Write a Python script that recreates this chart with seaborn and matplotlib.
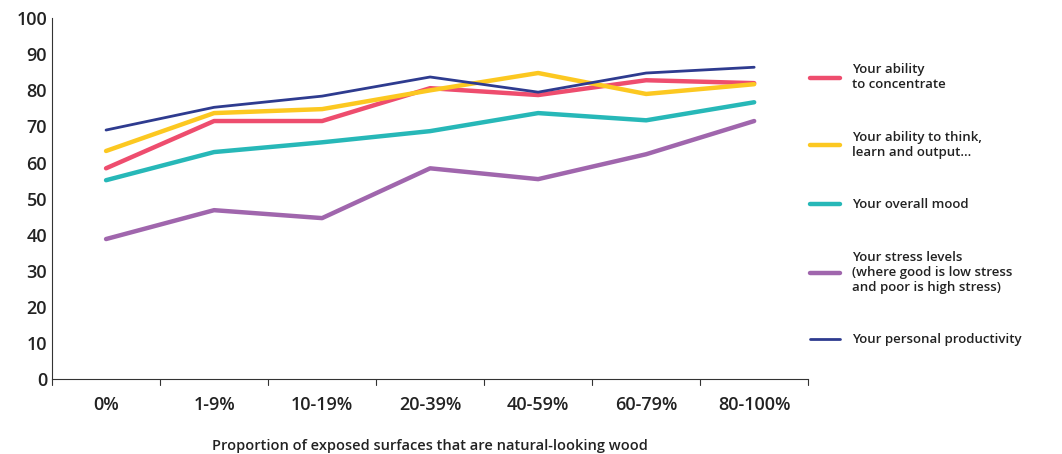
import pandas as pd
import seaborn as sns
import matplotlib.pyplot as plt

categories = ['0%', '1-9%', '10-19%', '20-39%', '40-59%', '60-79%', '80-100%']
concentrate = [58.4, 71.5, 71.5, 80.6, 78.7, 82.8, 82.0]
think = [63.2, 73.7, 74.8, 80.0, 84.8, 79.0, 81.7]
mood = [55.1, 62.9, 65.6, 68.7, 73.7, 71.7, 76.7]
stress = [38.8, 46.8, 44.6, 58.4, 55.4, 62.3, 71.5]
productivity = [69.0, 75.3, 78.4, 83.7, 79.5, 84.8, 86.4]

series = {
    'Your ability\nto concentrate': (concentrate, '#ee4d6e', 3.2),
    'Your ability to think,\nlearn and output...': (think, '#fcc821', 3.2),
    'Your overall mood': (mood, '#27b8b8', 3.2),
    'Your stress levels\n(where good is low stress\nand poor is high stress)': (stress, '#a066ad', 3.2),
    'Your personal productivity': (productivity, '#2e3b8f', 2.0),
}

rows = []
for name, (vals, _, _) in series.items():
    for c, v in zip(categories, vals):
        rows.append({'cat': c, 'value': v, 'series': name})
df = pd.DataFrame(rows)

sns.set_style('white')
plt.rcParams['font.family'] = ['Open Sans', 'DejaVu Sans']

fig = plt.figure(figsize=(10.62, 4.54), dpi=100)
ax = fig.add_axes([0.049, 0.165, 0.712, 0.795])
for name, (vals, color, lw) in series.items():
    sns.lineplot(data=df[df['series'] == name], x='cat', y='value', ax=ax,
                 color=color, linewidth=lw, label=name, sort=False)

ax.set_xlim(-0.5, 6.5)
ax.set_ylim(0, 100)
ax.set_yticks(range(0, 101, 10))
ax.tick_params(axis='both', labelsize=13, colors='#222222', length=0)
ax.tick_params(axis='x', pad=12)
for lab in ax.get_xticklabels() + ax.get_yticklabels():
    lab.set_fontweight('semibold')
ax.spines[['right', 'top']].set_visible(False)
ax.spines[['left', 'bottom']].set_color('#333333')
ax.set_ylabel('')
ax.set_xlabel('Proportion of exposed surfaces that are natural-looking wood',
              fontsize=10.5, labelpad=18, color='#222222', fontweight='semibold')
for i in range(8):
    ax.plot([i - 0.5, i - 0.5], [0, -1.5], color='#333333', lw=0.8, clip_on=False)

leg = ax.legend(loc='upper left', bbox_to_anchor=(0.995, 0.89), frameon=False,
                fontsize=9.5, handlelength=2.3, handletextpad=0.9,
                labelspacing=3.0, borderaxespad=0)
for t in leg.get_texts():
    t.set_color('#222222')
    t.set_fontweight('semibold')
fig.savefig('out.png', dpi=100)
